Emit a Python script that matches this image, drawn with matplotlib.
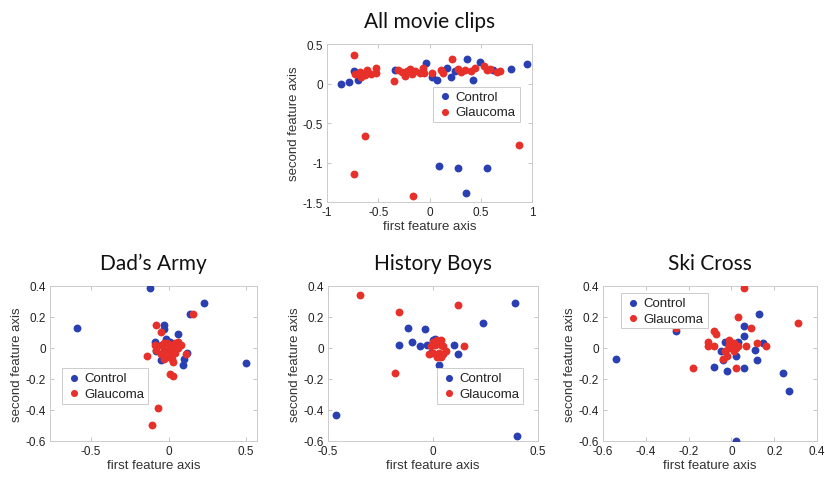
import matplotlib.pyplot as plt

# Projection of each subject onto the first two feature axes
all_ctrl_x = [-0.86, -0.79, -0.74, -0.70, -0.34, -0.03, 0.02, 0.07, 0.17, 0.21, 0.25, 0.37, 0.42,
              0.49, 0.62, 0.79, 0.95, 0.09, 0.28, 0.56, 0.36]
all_ctrl_y = [0.00, 0.02, 0.16, 0.04, 0.17, 0.26, 0.08, 0.04, 0.20, 0.08, 0.16, 0.31, 0.04,
              0.27, 0.17, 0.18, 0.25, -1.05, -1.07, -1.07, -1.39]
all_glau_x = [-0.74, -0.73, -0.68, -0.67, -0.63, -0.61, -0.57, -0.52, -0.52, -0.35, -0.31, -0.27,
              -0.24, -0.22, -0.19, -0.17, -0.14, -0.09, -0.06, -0.05, 0.02, 0.11, 0.13, 0.22,
              0.28, 0.31, 0.35, 0.40, 0.44, 0.53, 0.56, 0.59, 0.66, 0.69,
              -0.74, -0.63, -0.16, 0.87]
all_glau_y = [0.36, 0.12, 0.14, 0.08, 0.11, 0.17, 0.12, 0.20, 0.13, 0.03, 0.17, 0.15,
              0.10, 0.16, 0.18, 0.12, 0.16, 0.13, 0.20, 0.13, 0.13, 0.17, 0.13, 0.31,
              0.18, 0.14, 0.17, 0.16, 0.20, 0.22, 0.17, 0.18, 0.15, 0.16,
              -1.14, -0.67, -1.42, -0.78]

dad_ctrl_x = [-0.12, 0.23, 0.14, -0.59, -0.03, -0.03, 0.06, -0.09, -0.08, -0.05, 0.12, 0.10,
              0.09, 0.50, -0.02, 0.01]
dad_ctrl_y = [0.39, 0.29, 0.22, 0.13, 0.15, 0.12, 0.09, 0.04, -0.02, -0.08, -0.03, -0.07,
              -0.11, -0.10, 0.06, 0.04]
dad_glau_x = [0.16, -0.08, -0.05, -0.14, 0.11, 0.01, 0.03, -0.07, -0.11,
              -0.09, -0.05, -0.03, -0.01, 0.01, 0.04, 0.06, -0.08, -0.03, 0.00, 0.03, 0.06,
              -0.05, -0.02, 0.01, 0.04, -0.01, 0.02, 0.03, -0.03, 0.08]
dad_glau_y = [0.22, 0.15, 0.10, -0.05, -0.04, -0.17, -0.18, -0.39, -0.50,
              0.02, 0.02, 0.03, 0.03, 0.02, 0.03, 0.04, -0.01, -0.01, -0.01, -0.01, 0.00,
              -0.04, -0.04, -0.04, -0.03, -0.06, -0.07, -0.09, -0.07, 0.02]

hist_ctrl_x = [0.39, 0.24, -0.12, -0.04, -0.16, -0.10, -0.06, -0.03, 0.10, 0.12, 0.03, -0.01,
               0.00, 0.01, -0.46, 0.40]
hist_ctrl_y = [0.29, 0.16, 0.13, 0.12, 0.02, 0.04, 0.01, 0.02, 0.02, -0.04, -0.11, -0.03,
               0.05, 0.06, -0.43, -0.57]
hist_glau_x = [-0.35, -0.16, 0.12, 0.15, -0.18,
               0.00, 0.02, 0.04, -0.01, 0.01, 0.04, 0.05, -0.02, 0.00, 0.03, 0.05, 0.02, 0.04, 0.06]
hist_glau_y = [0.34, 0.23, 0.28, 0.01, -0.16,
               0.04, 0.05, 0.05, 0.01, 0.02, 0.02, 0.01, -0.04, -0.03, -0.03, -0.04, -0.06, -0.06, -0.02]

ski_ctrl_x = [-0.54, -0.26, 0.13, 0.06, 0.06, 0.15, 0.11, 0.12, -0.08, -0.02, 0.06, 0.24,
              0.27, 0.02, -0.05, -0.04, -0.03, -0.01, 0.03, 0.02]
ski_ctrl_y = [-0.07, 0.11, 0.22, 0.14, 0.08, 0.03, -0.01, -0.08, -0.12, -0.15, -0.13, -0.16,
              -0.28, -0.60, -0.02, -0.08, 0.04, 0.01, 0.04, -0.05]
ski_glau_x = [0.06, -0.26, 0.31, 0.03, -0.08, -0.07, 0.09, -0.18, 0.02, -0.11, -0.11, -0.08,
              0.07, 0.12, 0.16, -0.01, 0.01, -0.01, -0.03, -0.02, 0.01, 0.03, -0.04, -0.01, 0.02]
ski_glau_y = [0.39, 0.13, 0.16, 0.20, 0.11, 0.09, 0.13, -0.13, -0.13, 0.04, 0.01, 0.01,
              0.01, 0.03, 0.01, 0.05, 0.03, 0.00, -0.02, -0.05, -0.02, 0.01, -0.07, 0.02, 0.00]

CTRL_COLOR = '#2a3fb2'
GLAU_COLOR = '#e8302a'
TICK_FONT = 'Liberation Sans'
TITLE_FONT = 'Lato'


def scatter_panel(ax, title, ctrl_x, ctrl_y, glau_x, glau_y, xlim, ylim, xticks, yticks,
                  legend_loc, legend_anchor):
    ax.scatter(ctrl_x, ctrl_y, s=32, color=CTRL_COLOR, linewidths=0, label='Control', zorder=3)
    ax.scatter(glau_x, glau_y, s=32, color=GLAU_COLOR, linewidths=0, label='Glaucoma', zorder=4)

    ax.set_xlim(xlim)
    ax.set_ylim(ylim)
    ax.set_xticks(xticks)
    ax.set_yticks(yticks)
    ax.set_xticklabels([f'{t:g}' for t in xticks])
    ax.set_yticklabels([f'{t:g}' for t in yticks])

    ax.set_title(title, fontsize=15, family=TITLE_FONT, color='#111111', pad=12)
    ax.set_xlabel('first feature axis', fontsize=9.5, family=TICK_FONT, color='#333333', labelpad=1)
    ax.set_ylabel('second feature axis', fontsize=9.5, family=TICK_FONT, color='#333333', labelpad=2)

    ax.tick_params(direction='in', length=3, width=0.6, colors='#bbbbbb', labelcolor='#222222',
                   labelsize=8.5, pad=3, top=True, right=True)
    for lab in ax.get_xticklabels() + ax.get_yticklabels():
        lab.set_family(TICK_FONT)
    for spine in ax.spines.values():
        spine.set_color('#cccccc')
        spine.set_linewidth(0.7)

    leg = ax.legend(loc=legend_loc, bbox_to_anchor=legend_anchor, borderaxespad=0,
                    fancybox=False, framealpha=1, edgecolor='#cccccc', handletextpad=0.2,
                    borderpad=0.3, labelspacing=0.25, handlelength=1.2, markerscale=0.9,
                    prop={'family': TICK_FONT, 'size': 9.5})
    leg.get_frame().set_linewidth(0.7)
    for txt in leg.get_texts():
        txt.set_color('#222222')


fig = plt.figure(figsize=(8.25, 4.85), dpi=100)

ax_all = fig.add_axes([0.3964, 0.5814, 0.2485, 0.3258])
ax_dad = fig.add_axes([0.0606, 0.0887, 0.2509, 0.3196])
ax_hist = fig.add_axes([0.3976, 0.0887, 0.2545, 0.3196])
ax_ski = fig.add_axes([0.7309, 0.0887, 0.2594, 0.3196])

scatter_panel(ax_all, 'All movie clips', all_ctrl_x, all_ctrl_y, all_glau_x, all_glau_y,
              (-1, 1), (-1.5, 0.5), [-1, -0.5, 0, 0.5, 1], [-1.5, -1, -0.5, 0, 0.5],
              'upper right', (0.94, 0.73))
scatter_panel(ax_dad, 'Dad\u2019s Army', dad_ctrl_x, dad_ctrl_y, dad_glau_x, dad_glau_y,
              (-0.765, 0.57), (-0.6, 0.4), [-0.5, 0, 0.5], [-0.6, -0.4, -0.2, 0, 0.2, 0.4],
              'upper left', (0.058, 0.47))
scatter_panel(ax_hist, 'History Boys', hist_ctrl_x, hist_ctrl_y, hist_glau_x, hist_glau_y,
              (-0.5, 0.5), (-0.6, 0.4), [-0.5, 0, 0.5], [-0.6, -0.4, -0.2, 0, 0.2, 0.4],
              'upper right', (0.93, 0.47))
scatter_panel(ax_ski, 'Ski Cross', ski_ctrl_x, ski_ctrl_y, ski_glau_x, ski_glau_y,
              (-0.6, 0.4), (-0.6, 0.4), [-0.6, -0.4, -0.2, 0, 0.2, 0.4],
              [-0.6, -0.4, -0.2, 0, 0.2, 0.4], 'upper left', (0.085, 0.956))

fig.savefig('out.png', dpi=100)
plt.close(fig)
